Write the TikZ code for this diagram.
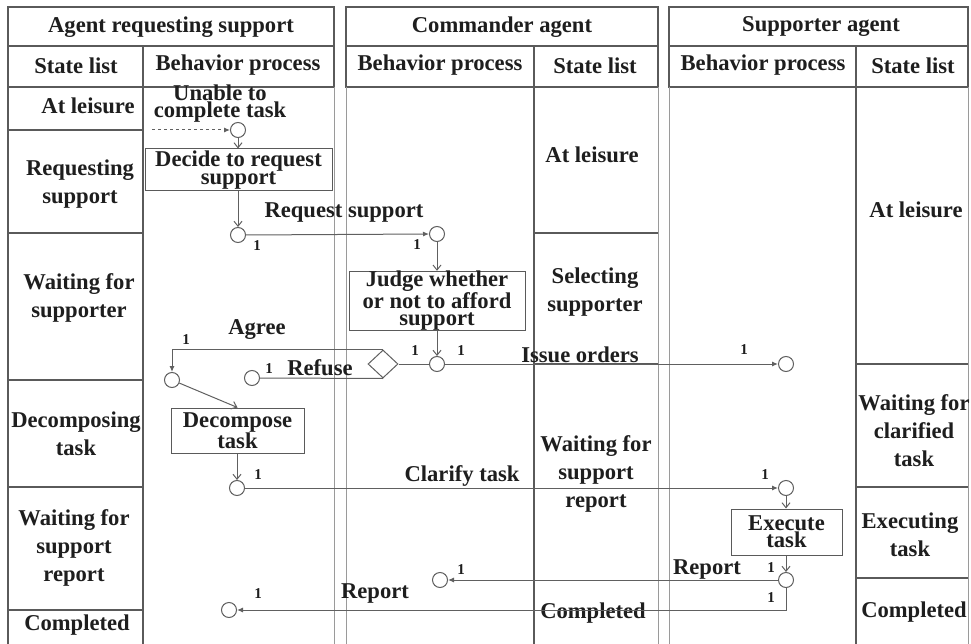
\documentclass[tikz,border=0pt]{standalone}
\usepackage{fontspec}
\setmainfont{Liberation Serif}
\usetikzlibrary{arrows.meta,shapes.geometric}

\definecolor{txt}{HTML}{1E1E1E}
\definecolor{frm}{HTML}{5A5A5A}
\definecolor{lanec}{HTML}{9A9A9A}
\definecolor{lnk}{HTML}{606060}

\tikzset{
  every node/.style={font=\fontsize{22.6}{28}\selectfont\bfseries, text=txt},
  frame/.style={draw=frm, line width=1.2pt},
  lane/.style={draw=lanec, line width=0.8pt},
  conn/.style={draw=lnk, line width=1pt},
  state/.style={align=center, inner sep=0pt},
  tight/.style={align=center, inner sep=0pt, font=\fontsize{22.6}{17}\selectfont\bfseries},
  act/.style={draw=frm, line width=1pt, align=center, inner sep=0pt,
    font=\fontsize{22.6}{17}\selectfont\bfseries},
  pt/.style={circle, draw=lnk, line width=1pt, minimum size=15pt, inner sep=0pt, fill=white},
  gate/.style={diamond, draw=lnk, line width=1pt, minimum width=30pt, minimum height=28pt,
    inner sep=0pt, fill=white},
  mult/.style={font=\fontsize{15}{15}\selectfont\bfseries, inner sep=0pt},
  lbl/.style={inner sep=0pt},
  tipH/.style={-{Latex[length=6pt,width=5pt]}},
  tipV/.style={-{Straight Barb[length=5pt,width=8pt]}}
}

\begin{document}
\begin{tikzpicture}[x=1pt,y=-1pt]
\useasboundingbox (0,0) rectangle (971,644);
\fill[white] (0,0) rectangle (971,644);

% ---- swimlane frames ----
% agent requesting support
\draw[frame] (8,7) rectangle (334,87);
\draw[frame] (8,46) -- (334,46);
\draw[frame] (8,87) -- (8,644);
\draw[frame] (143,46) -- (143,644);
\draw[lane] (334,87) -- (334,644);
\foreach \yy in {130,233,380,487,610} \draw[frame] (8,\yy) -- (143,\yy);
% commander agent
\draw[frame] (346,7) rectangle (658,87);
\draw[frame] (346,46) -- (658,46);
\draw[frame] (534,46) -- (534,644);
\draw[lane] (346,87) -- (346,644);
\draw[lane] (658,87) -- (658,644);
\foreach \yy in {233,364} \draw[frame] (534,\yy) -- (658,\yy);
% supporter agent
\draw[frame] (669,7) rectangle (968,87);
\draw[frame] (669,46) -- (968,46);
\draw[frame] (856,46) -- (856,644);
\draw[lane] (669,87) -- (669,644);
\draw[lane] (968,87) -- (968,644);
\foreach \yy in {364,487,578} \draw[frame] (856,\yy) -- (968,\yy);

% ---- headers ----
\node[lbl] (hA) at (171,27) {Agent requesting support};
\node[lbl] (hAs) at (76,66) {State list};
\node[lbl] (hAb) at (238,65) {Behavior process};
\node[lbl] (hC) at (502,27) {Commander agent};
\node[lbl] (hCb) at (440,65) {Behavior process};
\node[lbl] (hCs) at (595,66) {State list};
\node[lbl] (hS) at (821,27) {Supporter agent};
\node[lbl] (hSb) at (763,65) {Behavior process};
\node[lbl] (hSs) at (913,66) {State list};

% ---- state lists ----
\node[state] (a1) at (88,106) {At leisure};
\node[state] (a2) at (80,184) {Requesting\\support};
\node[state] (a3) at (79,298) {Waiting for\\supporter};
\node[state] (a4) at (76,434) {Decomposing\\task};
\node[state] (a5) at (74,548) {Waiting for\\support\\report};
\node[state] (a6) at (77,625) {Completed};

\node[state] (b1) at (592,155) {At leisure};
\node[state] (b2) at (595,292) {Selecting\\supporter};
\node[state] (b3) at (596,474) {Waiting for\\support\\report};
\node[state] (b4) at (593,613) {Completed};

\node[state] (s1) at (916,210) {At leisure};
\node[state] (s2) at (914,431) {Waiting for\\clarified\\task};
\node[state] (s3) at (910,535) {Executing\\task};
\node[state] (s4) at (914,612) {Completed};

% ---- behavior process ----
\node[tight] (unable) at (220,104) {Unable to\\complete task};
\coordinate (trig) at (152,130);
\node[pt] (c1) at (238,130) {};
\node[act, minimum width=187pt, minimum height=42pt] (decide) at (238.5,170) {Decide to request\\support};
\node[pt] (c2) at (238,235) {};
\node[pt] (c3) at (437,234) {};
\node[act, minimum width=176pt, minimum height=58pt] (judge) at (437,301) {Judge whether\\or not to afford\\support};
\node[pt] (c4) at (437,364) {};
\node[gate] (d) at (383,364) {};
\node[pt] (c5) at (172,380) {};
\node[pt] (c6) at (252,378) {};
\node[pt] (c7) at (786,364) {};
\node[act, minimum width=133pt, minimum height=45pt] (decomp) at (237.5,430.5) {Decompose\\task};
\node[pt] (c8) at (237,488) {};
\node[pt] (c9) at (786,488) {};
\node[act, minimum width=111pt, minimum height=46pt] (exec) at (786.5,532) {Execute\\task};
\node[pt] (c10) at (786,580) {};
\node[pt] (c11) at (440,580) {};
\node[pt] (c12) at (229,610) {};

% ---- connectors ----
\draw[conn, tipH, dashed] (trig) -- (c1.west);
\draw[conn, tipV] (c1.south) -- (c1.south |- decide.north);
\draw[conn, tipV] (c2 |- decide.south) -- (c2.north);
\draw[conn, tipH] (c2.east) -- (c3.west);
\draw[conn, tipV] (c3.south) -- (c3.south |- judge.north);
\draw[conn, tipV] (c4 |- judge.south) -- (c4.north);
\draw[conn] (c4.west) -- (d.east);
\draw[conn, tipH] (d.north) -| (c5.north);
\draw[conn] (d.south) -- (c6.east);
\draw[conn, tipH] (c4.east) -- (c7.west);
\draw[conn, tipV] (c5) -- (decomp.north);
\draw[conn, tipV] (c8 |- decomp.south) -- (c8.north);
\draw[conn, tipH] (c8.east) -- (c9.west);
\draw[conn, tipV] (c9.south) -- (c9.south |- exec.north);
\draw[conn, tipV] (c10 |- exec.south) -- (c10.north);
\draw[conn, tipH] (c10.west) -- (c11.east);
\draw[conn, tipH] (c10.south) |- (c12.east);

% ---- connector labels ----
\node[lbl] (lreq) at (344,213) {Request support};
\node[lbl] (lagree) at (257,330) {Agree};
\node[lbl] (lrefuse) at (320,368) {Refuse};
\node[lbl] (lissue) at (580,355) {Issue orders};
\node[lbl] (lclar) at (462,476) {Clarify task};
\node[lbl] (lrep1) at (707,570) {Report};
\node[lbl] (lrep2) at (375,594) {Report};

\node[mult] (m1) at (257,246) {1};
\node[mult] (m2) at (417,245) {1};
\node[mult] (m3) at (415,351) {1};
\node[mult] (m4) at (461,351) {1};
\node[mult] (m5) at (744,350) {1};
\node[mult] (m6) at (186,340) {1};
\node[mult] (m7) at (269,369) {1};
\node[mult] (m8) at (258,475) {1};
\node[mult] (m9) at (765,475) {1};
\node[mult] (m10) at (771,568) {1};
\node[mult] (m11) at (461,570) {1};
\node[mult] (m12) at (258,594) {1};
\node[mult] (m13) at (771,598) {1};
\end{tikzpicture}
\end{document}
